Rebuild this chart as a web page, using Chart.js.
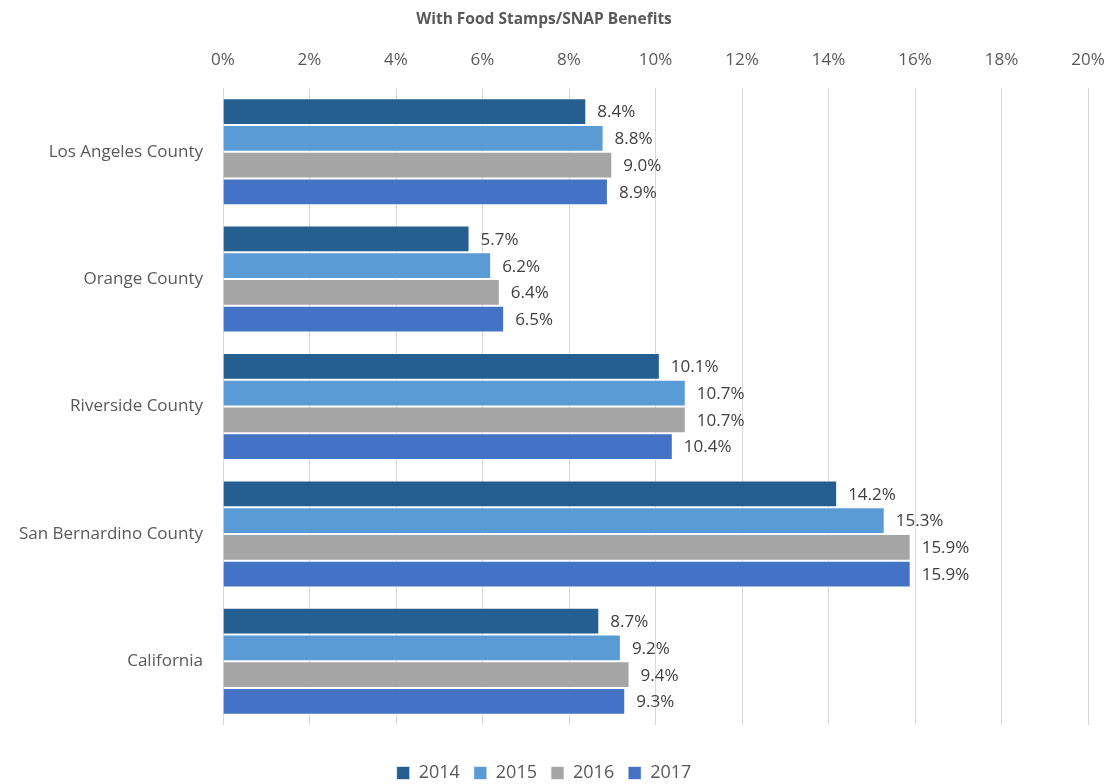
<!DOCTYPE html>
<html><head><meta charset="utf-8">
<script src="https://cdn.jsdelivr.net/npm/chart.js@4/dist/chart.umd.min.js"></script>
<style>html,body{margin:0;padding:0;background:#fff;overflow:hidden}#wrap{width:1108px;height:784px}</style>
</head><body><div id="wrap"><canvas id="c" width="1108" height="784"></canvas></div>
<script>
const categories = ["Los Angeles County","Orange County","Riverside County","San Bernardino County","California"];
const years = ["2014","2015","2016","2017"];
const v2014 = [8.4, 5.7, 10.1, 14.2, 8.7];
const v2015 = [8.8, 6.2, 10.7, 15.3, 9.2];
const v2016 = [9.0, 6.4, 10.7, 15.9, 9.4];
const v2017 = [8.9, 6.5, 10.4, 15.9, 9.3];
const colors = ["#255E91","#5B9BD5","#A5A5A5","#4472C4"];
const series = [v2014, v2015, v2016, v2017];

const labelPlugin = {
  id: 'barLabels',
  afterDatasetsDraw(chart) {
    const ctx = chart.ctx;
    ctx.save();
    ctx.font = '17px "Open Sans", sans-serif';
    ctx.fillStyle = '#404040';
    ctx.textAlign = 'left';
    ctx.textBaseline = 'middle';
    chart.data.datasets.forEach((ds, i) => {
      chart.getDatasetMeta(i).data.forEach((el, j) => {
        ctx.fillText(ds.data[j].toFixed(1) + '%', el.x + 11, el.y + 1);
      });
    });
    ctx.restore();
  }
};

new Chart(document.getElementById('c'), {
  type: 'bar',
  data: {
    labels: categories,
    datasets: series.map((d, i) => ({
      label: years[i], data: d, backgroundColor: colors[i],
      borderColor: 'rgba(255,255,255,0.6)', borderWidth: 1,
      categoryPercentage: 0.84, barPercentage: 1.0
    }))
  },
  options: {
    indexAxis: 'y',
    responsive: false,
    animation: false,
    layout: { padding: { left: 0, right: 20, top: 6, bottom: -8 } },
    plugins: {
      title: { display: true, text: 'With Food Stamps/SNAP Benefits', color: '#595959',
        font: { family: '"Open Sans", sans-serif', size: 15.5, weight: 'bold' }, padding: { top: 4, bottom: 3 } },
      legend: { position: 'bottom',
        title: { display: true, text: ' ', font: { size: 10, lineHeight: 1.2 }, padding: { top: 13, bottom: 0 } },
        labels: { color: '#595959', boxWidth: 13, boxHeight: 13, padding: 14,
          font: { family: '"Open Sans", sans-serif', size: 18 } } },
      tooltip: { enabled: false }
    },
    scales: {
      x: { position: 'top', min: 0, max: 20,
        ticks: { stepSize: 2, color: '#595959', padding: 18, callback: v => v + '%',
          font: { family: '"Open Sans", sans-serif', size: 17 } },
        grid: { color: '#D9D9D9', drawTicks: false, lineWidth: 1 },
        border: { display: false },
        afterFit(s) { s.paddingRight = 0; s.paddingLeft = 0; } },
      y: {
        ticks: { color: '#595959', padding: 12, font: { family: '"Open Sans", sans-serif', size: 17 } },
        grid: { display: false },
        border: { display: false },
        afterFit(s) { s.width = 223; }
      }
    }
  },
  plugins: [labelPlugin]
});
</script></body></html>
